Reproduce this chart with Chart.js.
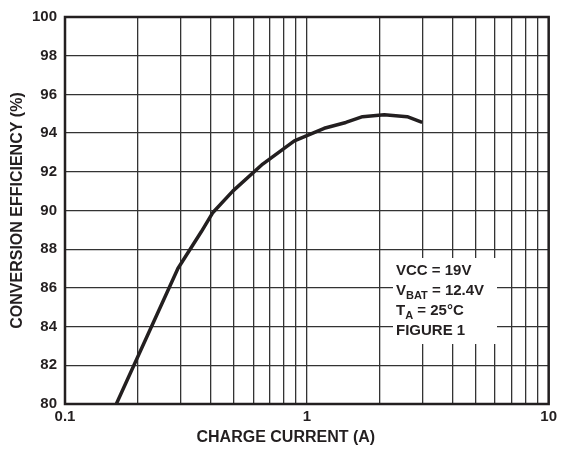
<!DOCTYPE html>
<html>
<head>
<meta charset="utf-8">
<script src="https://cdn.jsdelivr.net/npm/chart.js@4.4.1/dist/chart.umd.min.js"></script>
<style>
  html, body { margin: 0; padding: 0; background: #fff; }
  #wrap { width: 561px; height: 453px; position: relative; }
</style>
</head>
<body>
<div id="wrap"><canvas id="grafica"></canvas></div>
<script>
// charge current (A) vs efficiency (%)
var corriente = [0.163, 0.293, 0.366, 0.409, 0.494, 0.657, 0.888, 1.18, 1.45, 1.70, 2.09, 2.60, 3.0];
var eficiencia = [80.0, 87.0, 88.9, 89.9, 91.0, 92.4, 93.6, 94.25, 94.55, 94.85, 94.95, 94.85, 94.55];
var ticksX = [0.1, 0.2, 0.3, 0.4, 0.5, 0.6, 0.7, 0.8, 0.9, 1, 2, 3, 4, 5, 6, 7, 8, 9, 10];
var etiquetasX = { 0.1: '0.1', 1: '1', 10: '10' };
var notas = [
    ['VCC = 19V'],
    ['V', 'BAT', ' = 12.4V'],
    ['T', 'A', ' = 25°C'],
    ['FIGURE 1']
];
var tituloX = 'CHARGE CURRENT (A)';

var negro = '#231f20';
var fuente = 'Liberation Sans, Arial, sans-serif';

var puntos = corriente.map(function (x, i) { return { x: x, y: eficiencia[i] }; });

var marco = {
    id: 'marco',
    afterDraw: function (chart) {
        var c = chart.ctx, a = chart.chartArea;
        c.save();
        // cuadro de notas
        var bx = a.left + 328, by = a.top + 241;
        c.fillStyle = '#fff';
        c.fillRect(bx, by, 104, 86);
        c.fillStyle = negro;
        c.textBaseline = 'alphabetic';
        notas.forEach(function (n, i) {
            var x = bx + 3, y = by + 17 + i * 20;
            c.font = 'bold 15px ' + fuente;
            c.fillText(n[0], x, y);
            x += c.measureText(n[0]).width;
            if (n.length > 1) {
                c.font = 'bold 11px ' + fuente;
                c.fillText(n[1], x, y + 4);
                x += c.measureText(n[1]).width;
                c.font = 'bold 15px ' + fuente;
                c.fillText(n[2], x, y);
            }
        });
        // titulo eje x
        c.font = 'bold 16px ' + fuente;
        c.textAlign = 'center';
        c.textBaseline = 'middle';
        c.fillText(tituloX, (a.left + a.right) / 2 - 21, a.bottom + 34);
        // borde
        c.strokeStyle = negro;
        c.lineWidth = 2.5;
        c.strokeRect(a.left, a.top, a.right - a.left, a.bottom - a.top);
        c.restore();
    }
};

var ctx = document.getElementById('grafica').getContext('2d');
var myChart = new Chart(ctx, {
    type: 'line',
    data: {
        datasets: [{
            data: puntos,
            borderColor: negro,
            borderWidth: 3.5,
            pointRadius: 0,
            tension: 0,
            borderJoinStyle: 'round',
            fill: false
        }]
    },
    options: {
        responsive: true,
        maintainAspectRatio: false,
        animation: false,
        layout: { padding: { left: 0, right: 11, top: 13, bottom: 8 } },
        plugins: { legend: { display: false }, tooltip: { enabled: false } },
        scales: {
            x: {
                type: 'logarithmic',
                min: 0.1,
                max: 10,
                afterBuildTicks: function (s) {
                    s.ticks = ticksX.map(function (v) { return { value: v }; });
                },
                afterFit: function (s) { s.height = 41; },
                grid: { color: '#333', lineWidth: 1.3, drawTicks: false },
                border: { display: false },
                ticks: {
                    autoSkip: false,
                    maxRotation: 0,
                    padding: 4,
                    color: negro,
                    font: { family: fuente, size: 15, weight: 'bold' },
                    callback: function (v) { return etiquetasX[v] || ''; }
                }
            },
            y: {
                min: 80,
                max: 100,
                afterFit: function (s) { s.width = 65; },
                grid: { color: '#333', lineWidth: 1.3, drawTicks: false },
                border: { display: false },
                ticks: {
                    stepSize: 2,
                    padding: 8,
                    color: negro,
                    font: { family: fuente, size: 15, weight: 'bold' }
                },
                title: {
                    display: true,
                    text: 'CONVERSION EFFICIENCY (%)',
                    color: negro,
                    padding: { top: 8, bottom: 0 },
                    font: { family: fuente, size: 16, weight: 'bold' }
                }
            }
        }
    },
    plugins: [marco]
});
</script>
</body>
</html>
